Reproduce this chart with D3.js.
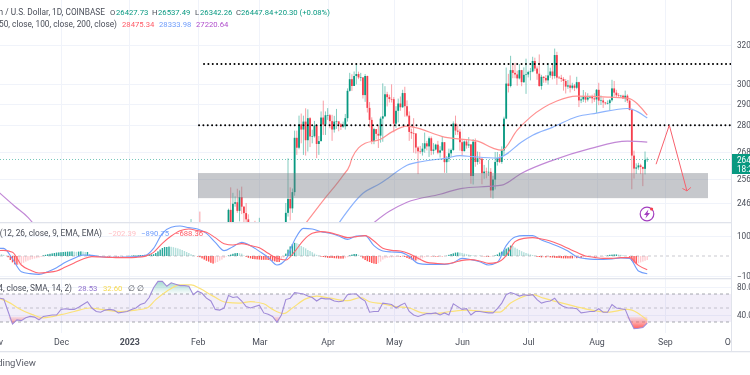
<!DOCTYPE html>
<html lang="en">
  <head>
    <meta charset="utf-8" />
    <title>BTC / USD daily</title>
    <script type="text/javascript" src="https://cdn.jsdelivr.net/npm/d3@7"></script>
    <style type="text/css">
html, body { margin: 0; padding: 0; background: white; overflow: hidden; }
svg { display: block; filter: blur(0.4px); }
svg text { font-family: Roboto, sans-serif; font-size: 7.7px; fill: #4a4e59; }
    </style>
  </head>
  <body>
    <script type="text/javascript">
// daily closes, highs, lows from 26 Jan 2023. open is the close before it
var candleStart = new Date(2023, 0, 26);
var firstOpen = 23060;
var closes = [
  23010, 23080, 23030, 23750, 22840, 23130,
  23730, 23490, 23430, 23330, 22930, 22760, 23240, 22960, 21800, 21630, 21860, 21780, 21790, 22200,
  24320, 23740, 24570, 24630, 24280, 24840, 24450, 24190, 23940, 23190, 23160, 23560, 23490, 23140,
  23630, 23470, 22350, 22350, 22430, 22410, 22200, 21710, 20360, 20190, 20630, 22160, 24200, 24770,
  24380, 25050, 27420, 26970, 28040, 27800, 28170, 27310, 28330, 27480, 27490, 27990, 27140, 27270,
  28360, 28030, 28470,
  28470, 28190, 27800, 28170, 28180, 28040, 27920, 27950, 28330, 29650, 30230, 29890, 30390, 30490,
  30320, 30320, 29440, 30390, 28820, 28250, 27270, 27820, 27600, 27520, 28310, 28420, 29480, 29340,
  29250, 29240,
  28070, 28680, 29030, 28850, 29540, 28900, 28450, 27690, 27630, 27620, 26980, 26810, 26790, 26930,
  27170, 27030, 27400, 26830, 26890, 27110, 26750, 26850, 27220, 26330, 26480, 26720, 26870, 28080,
  27750, 27700, 27220,
  26820, 27250, 27070, 27120, 25730, 27240, 26340, 26500, 26480, 25850, 25920, 25900, 25910, 25120,
  25580, 26340, 26510, 26340, 26850, 28310, 30010, 29890, 30690, 30550, 30470, 30270, 30690, 30080,
  30450, 30470,
  30590, 30620, 31160, 30770, 30510, 29890, 30350, 30290, 30170, 30420, 30620, 30390, 31470, 30310,
  30300, 30240, 30140, 29860, 29920, 29800, 29910, 29800, 30080, 29180, 29230, 29360, 29220, 29320,
  29360, 29280, 29230,
  29700, 29170, 29180, 29080, 29040, 29050, 29190, 29770, 29560, 29430, 29400, 29410, 29280, 29410,
  29170, 28720, 26620, 26050, 26100, 26190, 26120, 26040, 26430, 26448
];
var highs = [
  23800, 23500, 23200, 23950, 23800, 23320,
  23800, 24250, 23720, 23580, 23430, 23160, 23350, 23450, 23010, 21950, 21900, 22090, 21890, 22320,
  24370, 25250, 25020, 24870, 25190, 25120, 25280, 24480, 24600, 24140, 23220, 23690, 23880, 23600,
  24000, 23780, 23480, 22420, 22620, 22600, 22530, 22270, 21800, 20360, 20800, 22200, 24600, 26500,
  25250, 25200, 27750, 27750, 28450, 28550, 28450, 28800, 28750, 28380, 27790, 28200, 28030, 27500,
  28650, 29170, 28650,
  28810, 28530, 28490, 28440, 28770, 28180, 28100, 28170, 28530, 29770, 30550, 30480, 30620, 31000,
  30610, 30550, 30320, 30490, 30410, 29100, 28370, 27880, 27820, 28000, 28400, 30020, 29880, 29600,
  29460, 29970,
  29340, 28900, 29270, 29370, 29700, 29850, 29180, 28650, 27840, 28330, 27630, 27040, 27050, 27180,
  27660, 27280, 27480, 27480, 27180, 27150, 27280, 27040, 27480, 27220, 26600, 26930, 26930, 28180,
  28450, 28040, 27830,
  27350, 27300, 27340, 27450, 27130, 27360, 27390, 26800, 26780, 26530, 26210, 26090, 26430, 26070,
  25740, 26780, 26780, 26690, 27030, 28400, 30820, 30500, 31430, 31000, 31060, 30660, 31000, 30700,
  30830, 31280,
  30660, 30800, 31380, 31330, 30880, 31500, 30450, 30380, 30440, 31040, 30810, 30980, 31810, 31640,
  30390, 30450, 30330, 30240, 30190, 30420, 30050, 29990, 30350, 30100, 29380, 29690, 29580, 29530,
  29410, 29460, 29530,
  29740, 30050, 29420, 29320, 29110, 29180, 29250, 30200, 30140, 29700, 29540, 29450, 29460, 29660,
  29480, 29230, 28780, 26840, 26280, 26300, 26260, 26140, 26800, 26537
];
var lows = [
  22800, 22520, 22890, 23000, 22550, 22720,
  22760, 23360, 23200, 23250, 22750, 22640, 22750, 22670, 21700, 21460, 21600, 21630, 21360, 21530,
  22050, 23510, 23340, 24450, 24200, 23860, 24150, 23580, 23600, 22860, 22730, 23070, 23110, 23020,
  23020, 23200, 21980, 22200, 22210, 22260, 21930, 21600, 20050, 19570, 19950, 20440, 21900, 24050,
  23900, 24200, 24900, 26650, 26900, 27170, 26650, 26620, 26800, 27000, 27170, 27430, 26510, 26650,
  27250, 27550, 27550,
  28250, 27860, 27280, 27660, 27830, 27720, 27780, 27880, 27800, 28170, 29610, 29650, 29890, 29970,
  30230, 30130, 29270, 29110, 28600, 27900, 27130, 27130, 27340, 26960, 27200, 27240, 28380, 28890,
  29080, 29080,
  27670, 27880, 28130, 28680, 28820, 28400, 28380, 27280, 27370, 26750, 26710, 25810, 26700, 26620,
  26750, 26850, 26560, 26640, 26670, 26850, 26680, 26530, 26820, 25870, 25860, 26340, 26560, 26820,
  27550, 27560, 26840,
  26610, 26800, 26930, 26960, 25400, 25370, 26130, 26220, 26250, 25380, 25610, 25630, 25730, 24820,
  24780, 25160, 26180, 26290, 26260, 26650, 28280, 29570, 29820, 30280, 30280, 29900, 30220, 29880,
  30040, 29500,
  30320, 30170, 30580, 30650, 30200, 29850, 29710, 30050, 30050, 29960, 30300, 30220, 30260, 29950,
  30250, 30090, 29660, 29520, 29750, 29570, 29720, 29640, 29730, 28860, 29050, 29100, 29070, 29130,
  29260, 29040, 29110,
  28580, 28950, 28960, 28820, 28970, 28990, 28700, 29120, 29370, 29310, 29330, 29360, 29250, 29100,
  29060, 28700, 25170, 25620, 25820, 26000, 25810, 25300, 25800, 26342
];

// moving averages, read at the bends of each line
var ma50Dates = ["2023-03-22", "2023-03-30", "2023-04-08", "2023-04-11", "2023-04-12", "2023-04-18", "2023-04-25", "2023-04-30", "2023-05-07", "2023-05-10", "2023-05-24", "2023-06-08", "2023-06-15", "2023-06-19", "2023-06-26", "2023-07-02", "2023-07-14", "2023-07-23", "2023-08-07", "2023-08-15", "2023-08-24"];
var ma50Values = [23780, 24710, 25760, 26196, 26500, 27170, 27350, 27680, 27960, 27910, 27450, 27270, 26950, 26860, 27770, 28380, 29150, 29390, 29340, 29295, 28475];
var ma100Dates = ["2023-04-06", "2023-04-17", "2023-04-25", "2023-04-29", "2023-05-07", "2023-05-14", "2023-05-25", "2023-05-31", "2023-06-06", "2023-06-17", "2023-06-20", "2023-06-28", "2023-07-03", "2023-07-12", "2023-07-23", "2023-08-01", "2023-08-15", "2023-08-24"];
var ma100Values = [23780, 25000, 25420, 25680, 26196, 26360, 26510, 26620, 26570, 26510, 26620, 27230, 27540, 27900, 28400, 28570, 28790, 28334];
var ma200Dates = ["2022-11-03", "2022-11-10", "2022-11-16", "2022-11-20", "2023-04-19", "2023-04-29", "2023-05-07", "2023-05-22", "2023-06-01", "2023-06-13", "2023-06-19", "2023-06-28", "2023-07-12", "2023-07-29", "2023-08-15", "2023-08-24"];
var ma200Values = [25030, 24470, 24020, 23600, 23600, 24260, 24630, 24960, 25210, 25290, 25340, 25850, 26410, 26930, 27270, 27220];

// macd and signal: one reading every 4 days from 1 Nov 2022
var dayZero = new Date(2022, 10, 1);
var macdStep = 4;
var macdLine = [
  383, 383, -150, -783, -883, -917, -783, -583, -317, -117, 50, 33, -33, -67, -67, -50, -33, 17, 383, 1133,
  1433, 1500, 1417, 1350, 1133, 683, 267, 467, 683, 517, 233, -67, -450, -167, 800, 1383, 1350, 1217, 1133, 1000,
  833, 1000, 1017, 517, 250, 200, 183, -17, -367, -417, -417, -417, -333, -117, -183, -283, -450, -317, 517, 950,
  1017, 1017, 800, 633, 467, 250, -33, -133, -167, -167, -150, -100, -117, -750, -891
];
var signalLine = [
  250, 283, 183, -450, -700, -850, -817, -750, -550, -350, -150, -33, -50, -67, -83, -83, -67, -17, 183, 633,
  1000, 1267, 1350, 1267, 1183, 917, 617, 550, 617, 517, 417, 133, -117, -200, 217, 783, 1133, 1217, 1167, 1050,
  917, 967, 1017, 750, 383, 283, 250, 117, -117, -317, -367, -400, -333, -217, -183, -250, -367, -317, 17, 717,
  883, 917, 850, 750, 583, 383, 183, 0, -67, -117, -117, -83, -83, -467, -688
];
// histogram, one bar a day from 1 Nov 2022
var histValues = [
  130, 120, 110, 90, 60, 10, -60, -200, -320, -420, -440,
  -430, -400, -340, -280, -230, -190, -160, -130, -110, -80, -50,
  30, 60, 90, 110, 130, 150, 170, 180, 190, 200, 210, 220, 220, 230,
  220, 210, 220, 230, 220, 200, 200, 100, 40, 10, -20, -20, -20,
  -20, -30, -30, -30, -20, -20, -30, -30, -20, -20, -10, -10,
  10, 20, 30, 30, 40, 50, 50, 60, 60, 70, 80, 90,
  150, 230, 320, 400, 450, 450, 470, 460, 440, 410, 380, 340,
  300, 250, 200, 150, 90, 50, 10, -30, -60,
  -120, -180, -240, -280, -340, -380, -340, -300, -230, -180,
  -100, -30, 30, 70, 110, 140, 150, 140, 120, 30, -40, -90, -120,
  -150, -160, -170, -180, -190, -190, -190, -200, -220, -240, -270, -300, -300, -200,
  -80, 120, 320, 480, 600, 660, 640, 600, 500, 440, 380, 300, 250, 190, 120, 60, 20,
  -30, -50, -70, -90, -100, -100, -110, -120, -130, -130, -130, -110, -60,
  30, 70, 100, 100, 60, -20, -120, -200, -260, -300, -350, -380,
  -400, -360, -280, -180, -120, -100, -80, -70, -60, -50, -40, -40, -30,
  -50, -100, -140, -180, -220, -230, -220, -170, -120, -60, -30, -20, -20, -20, -30, -30, -20, -20, -10,
  10, 60, 100, 130, 170, 180, 170, 150, 120, 90, 70, 50, 30, 20, 10, 10, -10, -20,
  -30, -40, -30, -10, 30, 80, 170, 220, 290, 370, 430, 520, 500,
  420, 360, 300, 240, 190, 150, 120, 80, 50, 20, -40, -50, -70, -60, -70,
  -60, -70, -80, -90, -100, -100, -110, -120, -120, -120, -120, -120, -110, -110, -100, -100, -80, -60,
  -30, -10, -10, -20, -20, -10, -10, -10, 10, 30, 60, 70, 80, 80, 70, 60, 40,
  10, 0, -40, -250, -340, -410, -360, -320, -280, -240, -202
];

// rsi: one reading every 2 days from 1 Nov 2022
var rsiStep = 2;
var rsiValues = [
  62, 64, 63, 45, 27, 33, 32, 36, 38, 37, 33, 38, 39, 40, 40, 48, 49, 48, 48, 51,
  55, 59, 50, 45, 44, 47, 48, 47, 43, 44, 45, 48, 50, 55, 57, 65, 79, 88, 88, 81,
  86, 84, 82, 82, 81, 69, 74, 71, 64, 60, 48, 47, 50, 68, 65, 66, 60, 52, 50, 52,
  54, 43, 41, 38, 29.5, 40, 62, 64, 72, 71, 70, 67, 65, 60, 64, 63, 63, 60, 59, 60,
  69, 70, 70, 64, 60, 44, 45, 45, 57, 56, 55, 50, 54, 57, 45, 40, 38, 40, 42, 42,
  43, 40, 43, 40, 56, 52, 48, 49, 40, 45, 45, 44, 43, 43, 49, 57, 69, 72, 70, 67,
  69, 68, 69, 62, 57, 59, 60, 64, 56, 52, 50, 50, 49, 43, 44, 45, 45, 49, 44, 44,
  55, 50, 49, 48, 33, 20.5, 21, 22, 28.53
];
var rsiMaDays = [2, 7, 11, 17, 22, 30, 36, 43, 49, 57, 64, 69, 73, 78, 84, 89, 93, 99, 105, 111, 116, 122, 126, 131, 135, 141, 146, 152, 160, 166, 170, 176, 182, 188, 194, 200, 207, 214, 222, 229, 234, 238, 244, 249, 255, 261, 269, 278, 287, 296];
var rsiMaValues = [64, 57, 49, 40.5, 36, 40.5, 45, 50, 47.6, 45, 47, 50, 62, 74, 83, 83, 78, 67, 58, 57, 59, 56, 48, 42, 50, 63, 67, 64, 60.5, 65, 59, 56, 52, 50, 43, 42, 45, 47, 45, 44, 57, 64, 69, 64, 59, 54, 48, 44, 48, 32.6];

// axis labels
var priceTicks = [32000, 30000, 29000, 28000, 26800, 25600, 24600];
var macdTicks = [1000, -1000];
var rsiTicks = [80, 40];
var monthDates = [new Date(2022, 10, 1), new Date(2022, 11, 1), new Date(2023, 0, 1), new Date(2023, 1, 1), new Date(2023, 2, 1), new Date(2023, 3, 1), new Date(2023, 4, 1), new Date(2023, 5, 1), new Date(2023, 6, 1), new Date(2023, 7, 1), new Date(2023, 8, 1), new Date(2023, 9, 1)];
var monthLabels = ["Nov", "Dec", "2023", "Feb", "Mar", "Apr", "May", "Jun", "Jul", "Aug", "Sep", "Oct"];

// levels drawn on the chart
var resistance = [31000, 28000];
var supportBox = [25857, 24800];
var arrowDates = ["2023-08-28", "2023-09-03", "2023-09-11"];
var arrowPrices = [26240, 28000, 25100];
var lastPrice = 26447.84;

var w = 750;
var h = 375;
var plotRight = 731;
var green = "#089981";
var red = "#f5404e";
var gridColor = "#f0f3fa";
var sepColor = "#e0e3eb";
var parseDay = d3.timeParse("%Y-%m-%d");

var svg = d3.select("body")
            .append("svg")
            .attr("width", w)
            .attr("height", h);

var xScale = d3.scaleTime()
               .domain([new Date(2022, 11, 1), new Date(2023, 9, 1)])
               .range([61, plotRight]);
var yPrice = d3.scaleLog()
               .domain([32000, 24600])
               .range([45, 203]);
var yMacd = d3.scaleLinear()
              .domain([1000, -1000])
              .range([236, 276]);
var yRsi = d3.scaleLinear()
             .domain([70, 30])
             .range([294, 322]);

var defs = svg.append("defs");
defs.append("clipPath").attr("id", "mainClip")
    .append("rect").attr("width", plotRight).attr("height", 222);
defs.append("clipPath").attr("id", "plotClip")
    .append("rect").attr("width", plotRight).attr("height", h);

// grid
var grid = svg.append("g").attr("stroke", gridColor).attr("stroke-width", 1);
grid.selectAll("line.v")
    .data(monthDates)
    .enter()
    .append("line")
    .attr("x1", function(d) { return Math.round(xScale(d)) + 0.5; })
    .attr("x2", function(d) { return Math.round(xScale(d)) + 0.5; })
    .attr("y1", 0)
    .attr("y2", 333);
var gridRows = priceTicks.map(yPrice).concat(macdTicks.map(yMacd)).concat(rsiTicks.map(yRsi));
grid.selectAll("line.h")
    .data(gridRows)
    .enter()
    .append("line")
    .attr("x1", 0)
    .attr("x2", plotRight)
    .attr("y1", function(d) { return Math.round(d) + 0.5; })
    .attr("y2", function(d) { return Math.round(d) + 0.5; });

// candles
var candles = closes.map(function(c, i) {
  return {
    date: d3.timeDay.offset(candleStart, i),
    open: i ? closes[i - 1] : firstOpen,
    high: highs[i],
    low: lows[i],
    close: c
  };
});
var main = svg.append("g").attr("clip-path", "url(#mainClip)");
function candleColor(d) { return d.close >= d.open ? green : red; }
main.selectAll("line.wick")
    .data(candles)
    .enter()
    .append("line")
    .attr("x1", function(d) { return xScale(d.date); })
    .attr("x2", function(d) { return xScale(d.date); })
    .attr("y1", function(d) { return yPrice(d.high); })
    .attr("y2", function(d) { return yPrice(d.low); })
    .attr("stroke", candleColor)
    .attr("stroke-opacity", 0.5)
    .attr("stroke-width", 1);
main.selectAll("rect.body")
    .data(candles)
    .enter()
    .append("rect")
    .attr("x", function(d) { return xScale(d.date) - 0.9; })
    .attr("width", 1.8)
    .attr("y", function(d) { return yPrice(Math.max(d.open, d.close)); })
    .attr("height", function(d) { return Math.max(0.6, Math.abs(yPrice(d.open) - yPrice(d.close))); })
    .attr("fill", candleColor);

// moving averages
function drawPriceLine(dates, values, color) {
  var line = d3.line()
               .x(function(d) { return xScale(parseDay(d)); })
               .y(function(d, i) { return yPrice(values[i]); })
               .curve(d3.curveMonotoneX);
  main.append("path")
      .attr("d", line(dates))
      .attr("fill", "none")
      .attr("stroke", color)
      .attr("stroke-width", 1.2);
}
drawPriceLine(ma50Dates, ma50Values, "#ff9191");
drawPriceLine(ma100Dates, ma100Values, "#8cb3fd");
// the 200 line leaves the pane, so it goes in two pieces
drawPriceLine(ma200Dates.slice(0, 4), ma200Values.slice(0, 4), "#c288d6");
drawPriceLine(ma200Dates.slice(4), ma200Values.slice(4), "#c288d6");

// last price
svg.append("line")
   .attr("x1", 0)
   .attr("x2", plotRight)
   .attr("y1", yPrice(lastPrice))
   .attr("y2", yPrice(lastPrice))
   .attr("stroke", green)
   .attr("stroke-opacity", 0.55)
   .attr("stroke-dasharray", "1 2");

// support box sits over the candles
svg.append("rect")
   .attr("x", 198)
   .attr("width", 510)
   .attr("y", yPrice(supportBox[0]))
   .attr("height", yPrice(supportBox[1]) - yPrice(supportBox[0]))
   .attr("fill", "#787b86")
   .attr("fill-opacity", 0.42);

// dotted levels
var levelStarts = [204, 199];
svg.selectAll("line.level")
   .data(resistance)
   .enter()
   .append("line")
   .attr("x1", function(d, i) { return levelStarts[i]; })
   .attr("x2", plotRight)
   .attr("y1", function(d) { return yPrice(d); })
   .attr("y2", function(d) { return yPrice(d); })
   .attr("stroke", "#000")
   .attr("stroke-width", 1.9)
   .attr("stroke-linecap", "round")
   .attr("stroke-dasharray", "0.1 4.25");

// hand drawn arrow
var arrowLine = d3.line()
                  .x(function(d) { return xScale(parseDay(d)); })
                  .y(function(d, i) { return yPrice(arrowPrices[i]); });
var arrowGroup = svg.append("g")
                    .attr("fill", "none")
                    .attr("stroke", "#f7606c")
                    .attr("stroke-width", 1);
arrowGroup.append("path").attr("d", arrowLine(arrowDates));
var tipX = xScale(parseDay(arrowDates[2]));
var tipY = yPrice(arrowPrices[2]);
arrowGroup.append("path")
          .attr("d", "M" + (tipX - 4.5) + "," + (tipY - 2.5) + "L" + tipX + "," + tipY + "L" + (tipX + 4) + "," + (tipY - 3.5));

// bolt icon
var icon = svg.append("g").attr("transform", "translate(647,214)");
icon.append("circle").attr("r", 6.8).attr("fill", "white").attr("stroke", "#a33fc0").attr("stroke-width", 1.2);
icon.append("path").attr("d", "M1.4,-4.6L-3,0.9L-0.5,0.9L-1.6,4.6L3,-1.1L0.5,-1.1Z").attr("fill", "#a33fc0");
icon.append("circle").attr("cx", 4.6).attr("cy", -5).attr("r", 1.6).attr("fill", red);

// pane separators
svg.selectAll("rect.sep")
   .data([222, 278, 351])
   .enter()
   .append("rect")
   .attr("x", 0)
   .attr("width", w)
   .attr("y", function(d) { return d; })
   .attr("height", 1.3)
   .attr("fill", sepColor);

// macd histogram
var macdPane = svg.append("g").attr("clip-path", "url(#plotClip)");
function histColor(d, i) {
  var prev = i ? histValues[i - 1] : d;
  if (d >= 0) { return d >= prev ? "#26a69a" : "#b2dfdb"; }
  return d <= prev ? "#ff5252" : "#ffcdd2";
}
macdPane.selectAll("rect.hist")
        .data(histValues)
        .enter()
        .append("rect")
        .attr("x", function(d, i) { return xScale(d3.timeDay.offset(dayZero, i)) - 0.7; })
        .attr("width", 1.4)
        .attr("y", function(d) { return Math.min(yMacd(d), yMacd(0)); })
        .attr("height", function(d) { return Math.abs(yMacd(d) - yMacd(0)); })
        .attr("fill", histColor);
macdPane.append("line")
        .attr("x1", 0)
        .attr("x2", plotRight)
        .attr("y1", yMacd(0))
        .attr("y2", yMacd(0))
        .attr("stroke", "#787b86")
        .attr("stroke-opacity", 0.4)
        .attr("stroke-dasharray", "3 3");
function drawMacd(values, color) {
  var line = d3.line()
               .x(function(d, i) { return xScale(d3.timeDay.offset(dayZero, i * macdStep)); })
               .y(function(d) { return yMacd(d); })
               .curve(d3.curveMonotoneX);
  macdPane.append("path")
          .attr("d", line(values))
          .attr("fill", "none")
          .attr("stroke", color)
          .attr("stroke-width", 1.1);
}
drawMacd(macdLine, "#6f9dfb");
drawMacd(signalLine, "#ff6670");

// rsi pane
var rsiPane = svg.append("g").attr("clip-path", "url(#plotClip)");
function rsiX(d, i) { return xScale(d3.timeDay.offset(dayZero, i * rsiStep)); }
rsiPane.append("rect")
       .attr("x", 0)
       .attr("width", plotRight)
       .attr("y", yRsi(70))
       .attr("height", yRsi(30) - yRsi(70))
       .attr("fill", "#7e57c2")
       .attr("fill-opacity", 0.1);
rsiPane.selectAll("line.band")
       .data([70, 50, 30])
       .enter()
       .append("line")
       .attr("x1", 0)
       .attr("x2", plotRight)
       .attr("y1", function(d) { return yRsi(d); })
       .attr("y2", function(d) { return yRsi(d); })
       .attr("stroke", "#787b86")
       .attr("stroke-opacity", function(d) { return d === 50 ? 0.4 : 0.65; })
       .attr("stroke-dasharray", "3 3");

var lowGrad = defs.append("linearGradient")
                  .attr("id", "lowFill")
                  .attr("gradientUnits", "userSpaceOnUse")
                  .attr("x1", 0).attr("x2", 0)
                  .attr("y1", yRsi(38)).attr("y2", yRsi(20));
lowGrad.append("stop").attr("offset", 0).attr("stop-color", "#ff5252").attr("stop-opacity", 0.08);
lowGrad.append("stop").attr("offset", 1).attr("stop-color", "#ff5252").attr("stop-opacity", 0.95);
var highGrad = defs.append("linearGradient")
                   .attr("id", "highFill")
                   .attr("gradientUnits", "userSpaceOnUse")
                   .attr("x1", 0).attr("x2", 0)
                   .attr("y1", yRsi(90)).attr("y2", yRsi(70));
highGrad.append("stop").attr("offset", 0).attr("stop-color", "#089981").attr("stop-opacity", 0.4);
highGrad.append("stop").attr("offset", 1).attr("stop-color", "#089981").attr("stop-opacity", 0.02);

var lowArea = d3.area()
                .x(rsiX)
                .y0(yRsi(38))
                .y1(function(d) { return yRsi(Math.min(d, 38)); });
var highArea = d3.area()
                 .x(rsiX)
                 .y0(yRsi(70))
                 .y1(function(d) { return yRsi(Math.max(d, 70)); });
rsiPane.append("path").attr("d", lowArea(rsiValues)).attr("fill", "url(#lowFill)");
rsiPane.append("path").attr("d", highArea(rsiValues)).attr("fill", "url(#highFill)");

var rsiMaLine = d3.line()
                  .x(function(d) { return xScale(d3.timeDay.offset(dayZero, d)); })
                  .y(function(d, i) { return yRsi(rsiMaValues[i]); })
                  .curve(d3.curveMonotoneX);
rsiPane.append("path")
       .attr("d", rsiMaLine(rsiMaDays))
       .attr("fill", "none")
       .attr("stroke", "#fbe27a")
       .attr("stroke-width", 1.2);
var rsiLine = d3.line().x(rsiX).y(function(d) { return yRsi(d); });
rsiPane.append("path")
       .attr("d", rsiLine(rsiValues))
       .attr("fill", "none")
       .attr("stroke", "#a08bd8")
       .attr("stroke-width", 1.1);

// time axis goes under the right column so Oct is cut at the edge
var timeAxis = svg.append("g")
                  .attr("transform", "translate(0,335)")
                  .call(d3.axisBottom(xScale)
                          .tickValues(monthDates)
                          .tickFormat(function(d, i) { return monthLabels[i]; })
                          .tickSize(0)
                          .tickPadding(4));
timeAxis.select(".domain").remove();
timeAxis.selectAll("text")
        .style("font-size", "8.8px")
        .style("font-weight", function(d, i) { return monthLabels[i] === "2023" ? "bold" : null; });

// right hand axis column
svg.append("rect").attr("x", plotRight).attr("width", w - plotRight).attr("height", 351).attr("fill", "white");
svg.append("line")
   .attr("x1", plotRight + 0.5)
   .attr("x2", plotRight + 0.5)
   .attr("y1", 0)
   .attr("y2", 351)
   .attr("stroke", sepColor);

function rightAxis(scale, ticks, fmt) {
  svg.append("g")
     .attr("transform", "translate(" + plotRight + ",0)")
     .call(d3.axisRight(scale).tickValues(ticks).tickFormat(fmt).tickSize(0).tickPadding(6))
     .call(function(g) {
       g.select(".domain").remove();
       g.selectAll("text").style("font-size", "8.2px");
     });
}
rightAxis(yPrice, priceTicks, d3.format("d"));
rightAxis(yMacd, macdTicks, function(d) { return d < 0 ? "\u2212" + Math.abs(d) : String(d); });
rightAxis(yRsi, rsiTicks, d3.format(".2f"));

// last price tag
svg.append("rect")
   .attr("x", 732)
   .attr("y", 154)
   .attr("width", 18)
   .attr("height", 20)
   .attr("fill", green);
svg.append("text").attr("x", 737).attr("y", 162.5).style("fill", "white").style("font-size", "8.2px").text("26447.84");
svg.append("text").attr("x", 737).attr("y", 172).style("fill", "white").style("font-size", "8.2px").text("18:24:36");

// legend rows
function label(x, y, str, color, anchor) {
  var t = svg.append("text")
             .attr("x", x)
             .attr("y", y)
             .attr("text-anchor", anchor || "start")
             .style("fill", color || "#4a4e59")
             .text(str);
  // the description parts run wider than the numbers
  if (anchor === "end") { t.style("font-size", "8.3px"); }
}
label(105, 15, "Bitcoin / U.S. Dollar, 1D, COINBASE", null, "end");
label(110, 15, "O");
label(116, 15, "26427.73", green);
label(152, 15, "H");
label(158, 15, "26537.49", green);
label(195, 15, "L");
label(200, 15, "26342.26", green);
label(236, 15, "C");
label(241, 15, "26447.84", green);
label(274, 15, "+20.30 (+0.08%)", green);

label(117, 27, "SMA (50, close, 100, close, 200, close)", null, "end");
label(122, 27, "28475.34", "#ff5a66");
label(159, 27, "28333.98", "#6f9dfb");
label(196, 27, "27220.64", "#b04fcc");

label(102, 236, "MACD (12, 26, close, 9, EMA, EMA)", null, "end");
label(108, 236, "\u2212202.39", "#ffc2c7");
label(141, 236, "\u2212890.75", "#6f9dfb");
label(175, 236, "\u2212688.36", "#ff5a66");

label(72, 291, "RSI 14, close, SMA, 14, 2)", null, "end");
label(78, 291, "28.53", "#8e70cc");
label(103, 291, "32.60", "#f6d94f");
label(128, 291, "\u2205");
label(137, 291, "\u2205");

svg.append("text")
   .attr("x", 36)
   .attr("y", 366)
   .attr("text-anchor", "end")
   .style("font-size", "9.5px")
   .style("fill", "#5d606b")
   .text("TradingView");
    </script>
  </body>
</html>
